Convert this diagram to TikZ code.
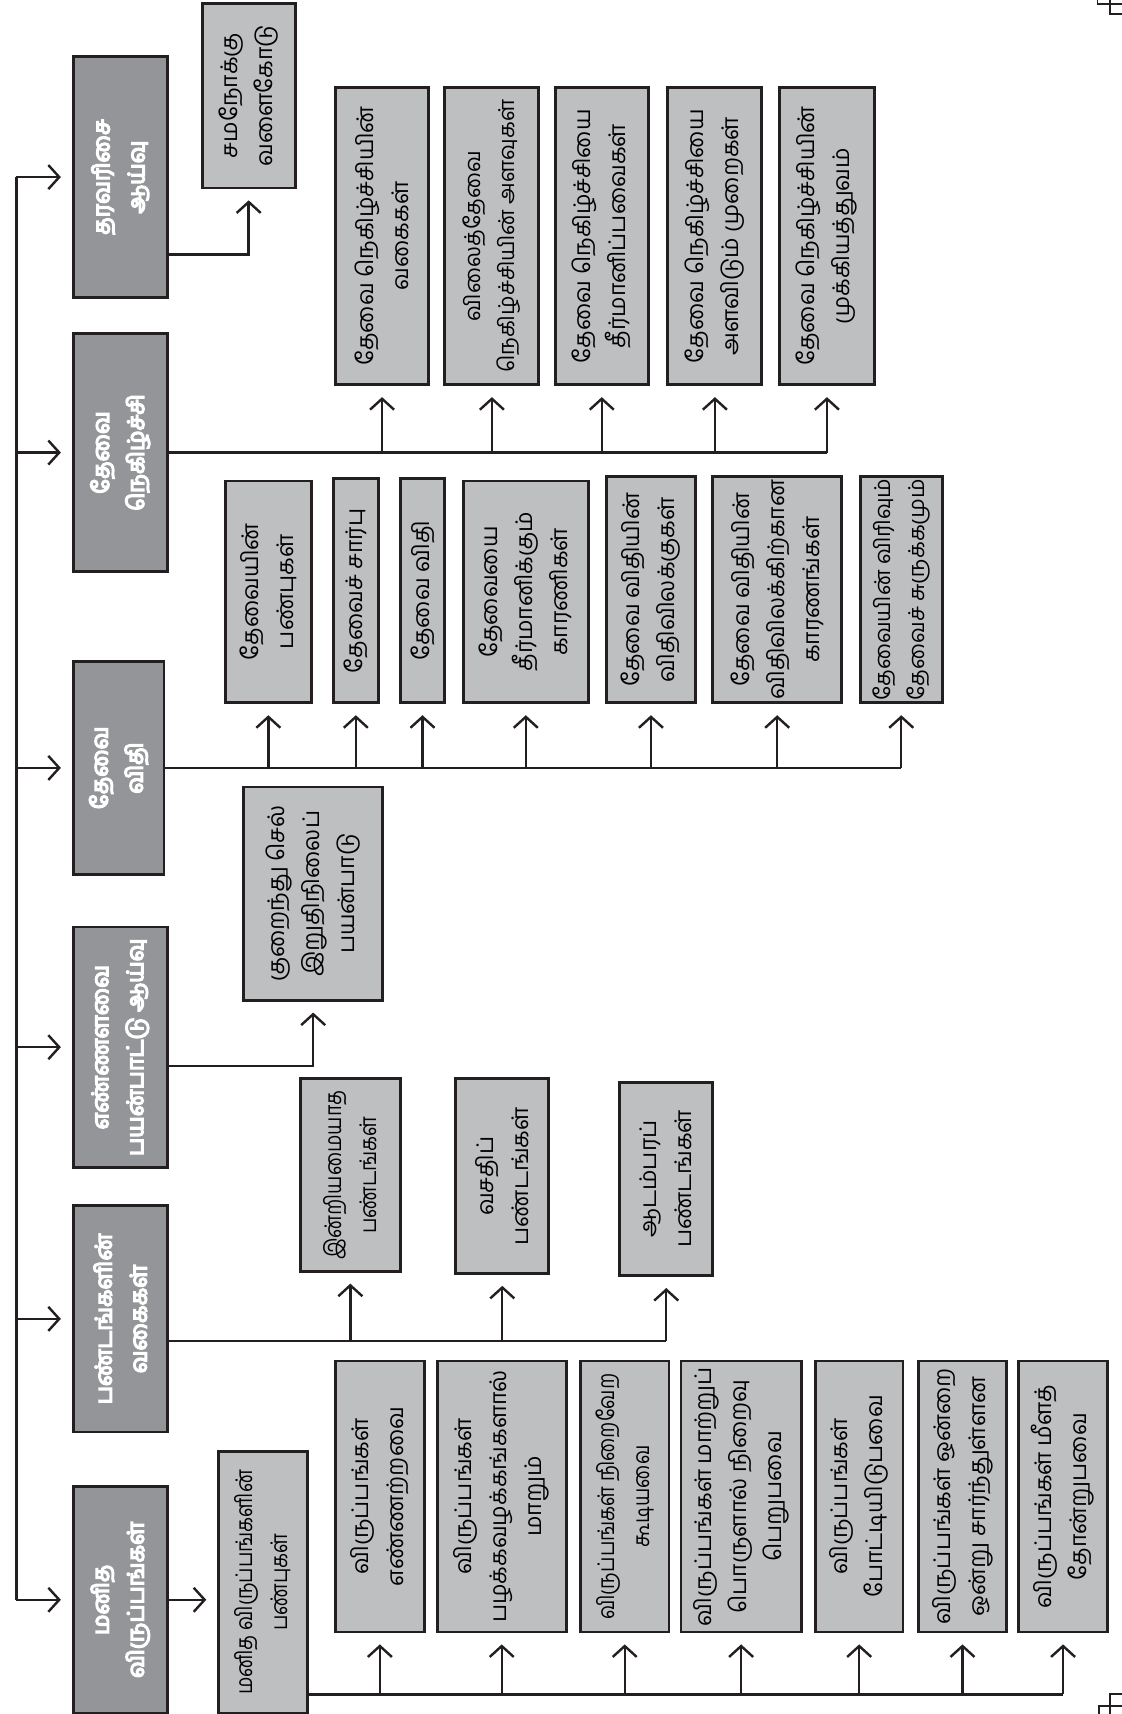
\documentclass[tikz,border=0pt]{standalone}
\usepackage{fontspec}
\newfontfamily\tam[Script=Tamil]{Hind Madurai}
\newfontfamily\tamc[Script=Tamil,FakeStretch=0.85]{Hind Madurai}
\newfontfamily\tamb[Script=Tamil,FakeBold=6]{Hind Madurai}
\usetikzlibrary{arrows.meta}
\definecolor{darkg}{RGB}{147,149,152}
\definecolor{lightg}{RGB}{190,191,193}
\definecolor{linec}{RGB}{35,31,32}
\tikzset{
  boxbase/.style={draw=linec, line width=1.3pt, rotate=90, align=center, inner sep=0pt},
  mainbox/.style={boxbase, fill=darkg, text=white, font=\tamb\fontsize{10.5}{16}\selectfont},
  subbox/.style={boxbase, fill=lightg, text=black, font=\tam\fontsize{10.5}{16}\selectfont},
  smallbox/.style={subbox, font=\tam\fontsize{10}{15.5}\selectfont},
  narrowbox/.style={subbox, font=\tamc\fontsize{10.5}{16}\selectfont},
  ln/.style={draw=linec, line width=1.1pt},
  arr/.style={ln, -{Straight Barb[length=5pt,width=11pt,line width=1.1pt]}, shorten >=5pt},
  regmark/.style={draw=linec, line width=0.9pt}
}
\newcommand\mybox[7]{%
  \node[#1, minimum width={(#6-#4)*0.5pt}, minimum height={(#5-#3)*0.5pt}] (#2) at ({(#3+#5)/2},{(#4+#6)/2}) {#7};}
\begin{document}
\begin{tikzpicture}[x=0.5pt,y=-0.5pt]
\fill[white] (0,0) rectangle (1026,1568);
\useasboundingbox (0,0) rectangle (1026,1568);

% main boxes
\mybox{mainbox}{b6}{67}{52}{153}{272}{தரவரிசை\\ஆய்வு}
\mybox{mainbox}{b5}{67}{305}{153}{523}{தேவை\\நெகிழ்ச்சி}
\mybox{mainbox}{b4}{67}{605}{150}{800}{தேவை\\விதி}
\mybox{mainbox}{b3}{67}{848}{153}{1068}{எண்ணளவை\\பயன்பாட்டு ஆய்வு}
\mybox{mainbox}{b2}{67}{1103}{153}{1310}{பண்டங்களின்\\வகைகள்}
\mybox{mainbox}{b1}{67}{1360}{153}{1567}{மனித\\விருப்பங்கள்}

% ordinal analysis
\mybox{subbox}{sama}{185}{3}{270}{172}{சமநோக்கு\\வளைகோடு}

% elasticity
\mybox{subbox}{c1}{307}{80}{392}{352}{தேவை நெகிழ்ச்சியின்\\வகைகள்}
\mybox{smallbox}{c2}{407}{80}{493}{352}{விலைத்தேவை\\நெகிழ்ச்சியின் அளவுகள்}
\mybox{subbox}{c3}{508}{80}{593}{352}{தேவை நெகிழ்ச்சியை\\தீர்மானிப்பவைகள்}
\mybox{subbox}{c4}{611}{80}{697}{352}{தேவை நெகிழ்ச்சியை\\அளவிடும் முறைகள்}
\mybox{subbox}{c5}{713}{80}{800}{352}{தேவை நெகிழ்ச்சியின்\\முக்கியத்துவம்}

% law of demand
\mybox{subbox}{d1}{206}{440}{285}{643}{தேவையின்\\பண்புகள்}
\mybox{subbox}{d2}{305}{438}{346}{643}{தேவைச் சார்பு}
\mybox{subbox}{d3}{366}{438}{407}{643}{தேவை விதி}
\mybox{subbox}{d4}{424}{440}{538}{643}{தேவையை\\தீர்மானிக்கும்\\காரணிகள்}
\mybox{subbox}{d5}{555}{436}{636}{643}{தேவை விதியின்\\விதிவிலக்குகள்}
\mybox{subbox}{d6}{652}{436}{770}{643}{தேவை விதியின்\\விதிவிலக்கிற்கான\\காரணங்கள்}
\mybox{smallbox}{d7}{787}{436}{862}{643}{தேவையின் விரிவும்\\தேவைச் சுருக்கமும்}

% cardinal analysis
\mybox{subbox}{kur}{223}{720}{350}{915}{குறைந்து செல்\\இறுதிநிலைப்\\பயன்பாடு}

% kinds of goods
\mybox{narrowbox}{e1}{275}{987}{366}{1163}{இன்றியமையாத\\பண்டங்கள்}
\mybox{subbox}{e2}{417}{987}{502}{1165}{வசதிப்\\பண்டங்கள்}
\mybox{subbox}{e3}{567}{990}{652}{1167}{ஆடம்பரப்\\பண்டங்கள்}

% human wants
\mybox{narrowbox}{m}{200}{1328}{281}{1567}{மனித விருப்பங்களின்\\பண்புகள்}
\mybox{subbox}{f1}{307}{1245}{388}{1493}{விருப்பங்கள்\\எண்ணற்றவை}
\mybox{subbox}{f2}{400}{1245}{518}{1493}{விருப்பங்கள்\\பழக்கவழக்கங்களால்\\மாறும்}
\mybox{narrowbox}{f3}{531}{1245}{612}{1493}{விருப்பங்கள் நிறைவேற\\கூடியவை}
\mybox{subbox}{f4}{623}{1245}{733}{1493}{விருப்பங்கள் மாற்றுப்\\பொருளால் நிறைவு\\பெறுபவை}
\mybox{subbox}{f5}{746}{1245}{826}{1493}{விருப்பங்கள்\\போட்டியிடுபவை}
\mybox{subbox}{f6}{840}{1245}{921}{1493}{விருப்பங்கள் ஒன்றை\\ஒன்று சார்ந்துள்ளன}
\mybox{subbox}{f7}{932}{1245}{1013}{1493}{விருப்பங்கள் மீளத்\\தோன்றுபவை}

% spine
\coordinate (sp) at (15,0);
\draw[ln] (b6.north -| sp) -- (b1.north -| sp);
\foreach \b in {b1,b2,b3,b4,b5,b6} \draw[arr] (\b.north -| sp) -- (\b.north);

% b6 -> sama
\coordinate (k6) at (0,233);
\draw[arr] (b6.south |- k6) -| (sama.west);

% b5 bus
\draw[ln] (b5.south) -- (b5.south -| c5.west);
\foreach \c in {c1,c2,c3,c4,c5} \draw[arr] (b5.south -| \c.west) -- (\c.west);

% b4 bus
\draw[ln] (b4.south) -- (b4.south -| d7.west);
\foreach \c in {d1,d2,d3,d4,d5,d6,d7} \draw[arr] (b4.south -| \c.west) -- (\c.west);

% b3 -> kur
\coordinate (k3) at (0,975);
\draw[arr] (b3.south |- k3) -| (kur.west);

% b2 bus
\coordinate (k2) at (0,1227);
\draw[ln] (b2.south |- k2) -- (e3.west |- k2);
\foreach \c in {e1,e2,e3} \draw[arr] (\c.west |- k2) -- (\c.west);

% b1 -> m
\draw[arr] (b1.south) -- (b1.south -| m.north);

% m bus
\coordinate (k1) at (0,1550);
\draw[ln] (m.south |- k1) -- (f7.west |- k1);
\foreach \c in {f1,f2,f3,f4,f5,f6,f7} \draw[arr] (\c.west |- k1) -- (\c.west);

% registration marks at the edges
\draw[regmark] (1004,0) -- (1004,3.7) -- (1026,3.7);
\draw[regmark] (1015,0) -- (1015,12.8) -- (1026,12.8);
\draw[regmark] (1005,1568) -- (1005,1561) -- (1026,1561);
\draw[regmark] (1015,1568) -- (1015,1550) -- (1026,1550);
\end{tikzpicture}
\end{document}
